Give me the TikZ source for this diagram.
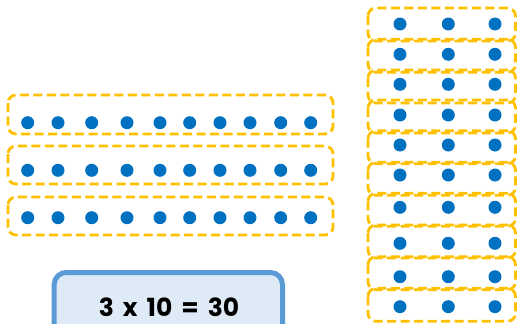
\documentclass[tikz,border=0pt]{standalone}
\usepackage{fontspec}
\setmainfont{Poppins}
\definecolor{dashor}{HTML}{FFC000}
\definecolor{dotblue}{HTML}{0070C0}
\definecolor{eqborder}{HTML}{5B9BD5}
\definecolor{eqfill}{HTML}{DEEBF7}
\tikzset{
  groupbox/.style={draw=dashor, line width=2.8pt, dash pattern=on 9pt off 4.5pt, rounded corners=8pt},
  counter/.style={circle, fill=dotblue, inner sep=0pt, minimum size=13pt},
  eqbox/.style={draw=eqborder, fill=eqfill, line width=5pt, rounded corners=12pt},
}
\begin{document}
\begin{tikzpicture}[x=1pt,y=-1pt]
\useasboundingbox (0,0) rectangle (517,324);
% left: 3 rows of 10
\foreach \r/\top/\bot/\dy in {1/95/134/122.7, 2/146/184/170.3, 3/197/235/217.7}{
  \draw[groupbox] (8,\top) rectangle (333,\bot);
  \foreach \x [count=\i] in {27.7,58,91.7,127,160,189.7,220,250,280.7,310.7}{
    \node[counter] (L\r-\i) at (\x,\dy) {};
  }
}
% right: 10 rows of 3
\foreach \r/\top/\dy in {1/8/24, 2/39.3/54.3, 3/70/84.3, 4/100/115, 5/130.7/145, 6/162.3/175, 7/193.3/207.3, 8/225/243.3, 9/256.7/276.7, 10/288.3/306.7}{
  \draw[groupbox] (368,\top) rectangle (515.5,\top+33);
  \foreach \x [count=\i] in {400,448.3,495}{
    \node[counter] (R\r-\i) at (\x,\dy) {};
  }
}
% equation box
\draw[eqbox] (54.2,272.5) rectangle (282.5,340);
\node[inner sep=0pt, font=\fontsize{25}{28}\selectfont\bfseries] (eq) at (169,307) {\spaceskip=9pt 3 x 10 = 30};
\end{tikzpicture}
\end{document}
